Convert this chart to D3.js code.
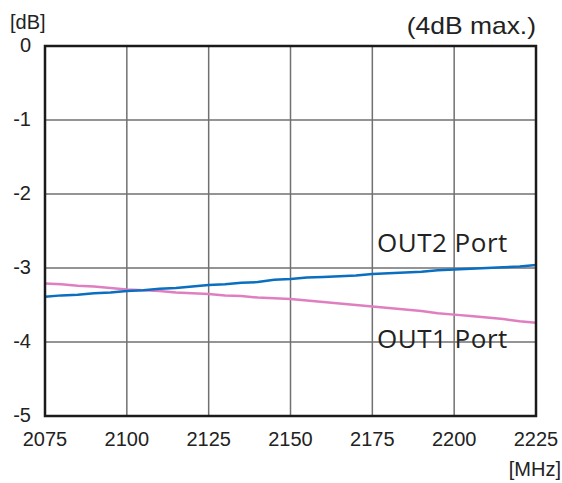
<!DOCTYPE html>
<html>
<head>
<meta charset="utf-8">
<script src="https://cdn.jsdelivr.net/npm/d3@7"></script>
<style>
  body { margin: 0; background: #fff; }
  svg text { fill: #222; }
</style>
</head>
<body>
<div id="chart"></div>
<script>
// frequency points (MHz), every 5 MHz
var freqs = [2075, 2080, 2085, 2090, 2095, 2100, 2105, 2110, 2115, 2120, 2125,
             2130, 2135, 2140, 2145, 2150, 2155, 2160, 2165, 2170, 2175,
             2180, 2185, 2190, 2195, 2200, 2205, 2210, 2215, 2220, 2225];

// insertion loss (dB)
var out2 = [-3.39, -3.37, -3.36, -3.34, -3.33, -3.31, -3.30, -3.28, -3.27, -3.25, -3.23,
            -3.22, -3.20, -3.19, -3.16, -3.15, -3.13, -3.12, -3.11, -3.10, -3.08,
            -3.07, -3.06, -3.05, -3.03, -3.02, -3.01, -3.00, -2.99, -2.98, -2.96];
var out1 = [-3.21, -3.22, -3.24, -3.25, -3.27, -3.29, -3.30, -3.31, -3.33, -3.34, -3.35,
            -3.37, -3.38, -3.40, -3.41, -3.42, -3.44, -3.46, -3.48, -3.50, -3.52,
            -3.54, -3.56, -3.58, -3.61, -3.63, -3.65, -3.67, -3.69, -3.72, -3.74];

var xTicks = [2075, 2100, 2125, 2150, 2175, 2200, 2225];
var yTicks = [0, -1, -2, -3, -4, -5];

var width = 562, height = 483;
var plotLeft = 45, plotRight = 536, plotTop = 46, plotBottom = 416;

var svg = d3.select("#chart").append("svg")
    .attr("width", width)
    .attr("height", height);

var x = d3.scaleLinear().domain([2075, 2225]).range([plotLeft, plotRight]);
var y = d3.scaleLinear().domain([-5, 0]).range([plotBottom, plotTop]);

var font = "'Liberation Sans', Arial, sans-serif";

//grid lines
svg.append("g").selectAll("line")
    .data(xTicks.slice(1, -1))
    .enter().append("line")
    .attr("x1", d => x(d)).attr("x2", d => x(d))
    .attr("y1", plotTop).attr("y2", plotBottom)
    .attr("stroke", "#707070").attr("stroke-width", 1.5);

svg.append("g").selectAll("line")
    .data(yTicks.slice(1, -1))
    .enter().append("line")
    .attr("x1", plotLeft).attr("x2", plotRight)
    .attr("y1", d => y(d)).attr("y2", d => y(d))
    .attr("stroke", "#707070").attr("stroke-width", 1.5);

//curves
var line = d3.line()
    .x((d, i) => x(freqs[i]))
    .y(d => y(d));

svg.append("path").datum(out1)
    .attr("d", line)
    .attr("fill", "none")
    .attr("stroke", "#e07fc0")
    .attr("stroke-width", 2.5);

svg.append("path").datum(out2)
    .attr("d", line)
    .attr("fill", "none")
    .attr("stroke", "#0a6fc0")
    .attr("stroke-width", 2.5);

//frame
svg.append("rect")
    .attr("x", plotLeft).attr("y", plotTop)
    .attr("width", plotRight - plotLeft).attr("height", plotBottom - plotTop)
    .attr("fill", "none")
    .attr("stroke", "#1a1a1a")
    .attr("stroke-width", 2.5);

//tick labels
svg.append("g").selectAll("text")
    .data(yTicks)
    .enter().append("text")
    .attr("x", 31)
    .attr("y", d => y(d) - 1)
    .attr("dy", "0.36em")
    .attr("text-anchor", "end")
    .style("font-family", font)
    .style("font-size", "20px")
    .text(d => d);

svg.append("g").selectAll("text")
    .data(xTicks)
    .enter().append("text")
    .attr("x", d => x(d))
    .attr("y", 446)
    .attr("text-anchor", "middle")
    .style("font-family", font)
    .style("font-size", "20px")
    .text(d => d);

//units
svg.append("text")
    .attr("x", 10).attr("y", 29)
    .style("font-family", font)
    .style("font-size", "20px")
    .text("[dB]");

svg.append("text")
    .attr("x", 561).attr("y", 476)
    .attr("text-anchor", "end")
    .style("font-family", font)
    .style("font-size", "20px")
    .text("[MHz]");

svg.append("text")
    .attr("transform", "translate(536,34) scale(1.15,1)")
    .attr("text-anchor", "end")
    .style("font-family", font)
    .style("font-size", "23px")
    .text("(4dB max.)");

//port labels
svg.append("text")
    .attr("x", 377).attr("y", 252)
    .style("font-family", "'Open Sans', 'Noto Sans', sans-serif")
    .style("font-size", "26px")
    .style("letter-spacing", "0.5px")
    .text("OUT2 Port");

svg.append("text")
    .attr("x", 377).attr("y", 348)
    .style("font-family", "'Open Sans', 'Noto Sans', sans-serif")
    .style("font-size", "26px")
    .style("letter-spacing", "0.5px")
    .text("OUT1 Port");
</script>
</body>
</html>
